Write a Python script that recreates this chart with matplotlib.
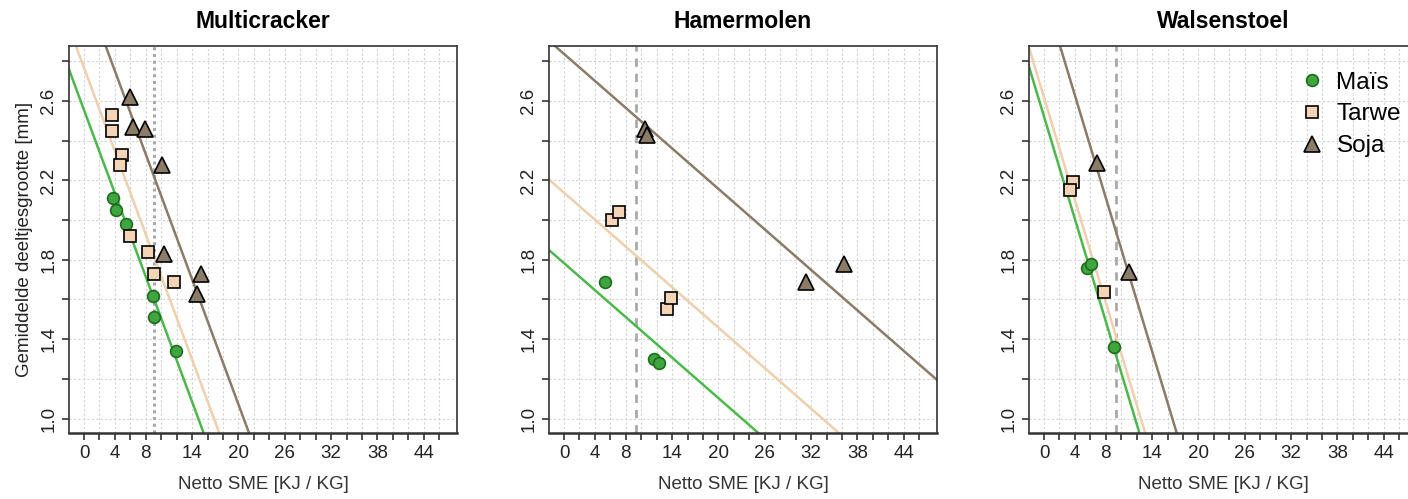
import numpy as np
import matplotlib.pyplot as plt

plt.rcParams['font.family'] = ['Liberation Sans', 'DejaVu Sans']

# gegevens per machine (x = Netto SME, y = deeltjesgrootte)
titels = ["Multicracker", "Hamermolen", "Walsenstoel"]
soorten = ["Maïs", "Tarwe", "Soja"]

mais_x = [[3.7, 4.2, 5.4, 8.9, 9.1, 11.9],
          [5.3, 11.6, 12.3],
          [5.6, 6.1, 9.0]]
mais_y = [[2.11, 2.05, 1.98, 1.62, 1.51, 1.34],
          [1.69, 1.30, 1.28],
          [1.76, 1.78, 1.36]]

tarwe_x = [[3.6, 3.6, 4.9, 4.6, 6.0, 8.3, 9.1, 11.6],
           [6.2, 7.1, 13.3, 13.9],
           [3.7, 3.3, 7.8]]
tarwe_y = [[2.53, 2.45, 2.33, 2.28, 1.92, 1.84, 1.73, 1.69],
           [2.00, 2.04, 1.55, 1.61],
           [2.19, 2.15, 1.64]]

soja_x = [[6.0, 6.3, 7.9, 10.1, 10.4, 15.1, 14.6],
          [10.5, 10.7, 31.3, 36.2],
          [6.9, 11.0]]
soja_y = [[2.62, 2.47, 2.46, 2.28, 1.83, 1.73, 1.63],
          [2.46, 2.43, 1.69, 1.78],
          [2.29, 1.74]]

# regressielijnen: gemeenschappelijke helling, eigen intercept
helling = [-0.105, -0.034, -0.129]
intercept_mais = [2.554, 1.783, 2.521]
intercept_tarwe = [2.767, 2.138, 2.617]
intercept_soja = [3.171, 2.837, 3.144]

sme_grens = [9.1, 9.3, 9.3]

groen = "#3fa63f"
groen_lijn = "#4cb84c"
tarwe_kleur = "#f3d4b6"
tarwe_lijn = "#efcfad"
soja_kleur = "#8b7b67"

fig = plt.figure(figsize=(14.08, 4.99), dpi=100)

links = [69, 549, 1029]
breedte = 388

xs = np.linspace(-5, 55, 200)

for i in range(3):
    ax = fig.add_axes([links[i] / 1408, 66.3 / 499, breedte / 1408, 386.7 / 499])
    ax.set_xlim(-1.95, 48.3)
    ax.set_ylim(0.929, 2.877)

    # raster
    for gx in np.arange(0, 48, 2):
        ax.axvline(gx, color="#d3d3d3", lw=0.8, ls=(0, (2, 2)), zorder=0)
    for gy in np.arange(1.0, 2.85, 0.2):
        ax.axhline(gy, color="#d3d3d3", lw=0.8, ls=(0, (2, 2)), zorder=0)

    if i == 0:
        ax.axvline(sme_grens[i], color="#a9a9a9", lw=2.2, ls=(0, (1, 1.2)), zorder=1)
    else:
        ax.axvline(sme_grens[i], color="#a9a9a9", lw=2, ls=(0, (3, 2.5)), zorder=1)

    ax.plot(xs, intercept_mais[i] + helling[i] * xs, color=groen_lijn, lw=1.8, zorder=2)
    ax.plot(xs, intercept_tarwe[i] + helling[i] * xs, color=tarwe_lijn, lw=1.8, zorder=2)
    ax.plot(xs, intercept_soja[i] + helling[i] * xs, color=soja_kleur, lw=1.8, zorder=2)

    ax.plot(mais_x[i], mais_y[i], "o", ms=8.5, mfc=groen, mec="#1f6b1f", mew=1.2,
            ls="none", zorder=3, label=soorten[0])
    ax.plot(tarwe_x[i], tarwe_y[i], "s", ms=9, mfc=tarwe_kleur, mec="black", mew=1.2,
            ls="none", zorder=3, label=soorten[1])
    ax.plot(soja_x[i], soja_y[i], "^", ms=11, mfc=soja_kleur, mec="black", mew=1.2,
            ls="none", zorder=3, label=soorten[2])

    ax.set_xticks(np.arange(0, 48, 2))
    ax.set_xticklabels([str(v) if v in (0, 4, 8, 14, 20, 26, 32, 38, 44) else ""
                        for v in range(0, 48, 2)])
    ax.set_yticks(np.round(np.arange(1.0, 2.85, 0.2), 1))
    ax.set_yticklabels(["1.0", "", "1.4", "", "1.8", "", "2.2", "", "2.6", ""],
                       rotation=90, va="center")
    ax.tick_params(axis="both", labelsize=13.5, color="#333333", labelcolor="#222222",
                   length=5, width=1.2, direction="out")
    ax.tick_params(axis="x", pad=4)
    for s in ax.spines.values():
        s.set_color("#333333")
        s.set_linewidth(1.2)
    ax.spines["bottom"].set_linewidth(1.8)

    ax.set_title(titels[i], fontsize=16.5, fontweight="bold", pad=13)
    ax.set_xlabel("Netto SME [KJ / KG]", fontsize=13.5, color="#333333", labelpad=10)
    if i == 0:
        ax.set_ylabel("Gemiddelde deeltjesgrootte [mm]", fontsize=13.5, color="#222222",
                      labelpad=5)
    if i == 2:
        ax.legend(loc="upper right", bbox_to_anchor=(1.015, 0.99), frameon=False,
                  fontsize=17.5, handletextpad=0.5, labelspacing=0.4, handlelength=1.0)

fig.savefig("out.png", dpi=100)
